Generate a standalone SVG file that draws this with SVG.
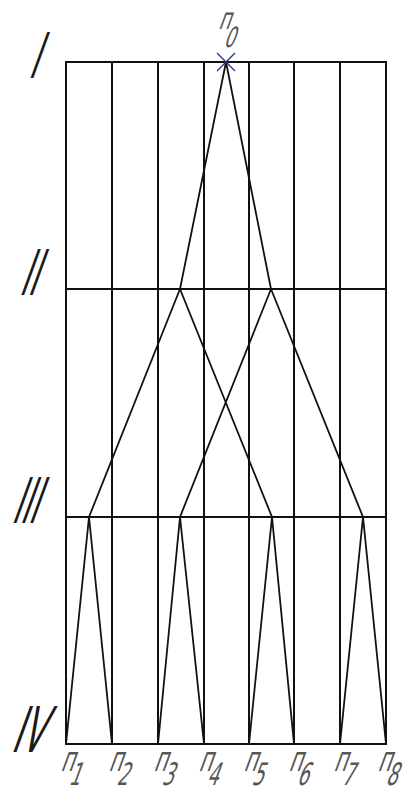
<svg xmlns="http://www.w3.org/2000/svg" width="406" height="794" viewBox="0 0 406 794">
<style>
.g{stroke:#111;stroke-width:2;fill:none}
.c{stroke:#111;stroke-width:1.8;fill:none;stroke-linecap:round}
.num{font-family:"DejaVu Sans",sans-serif;font-size:63px;fill:#1a1a1a}
.lab{font-family:"DejaVu Sans",sans-serif;font-size:35px;fill:#555}
.sub{font-size:31px}
.top{font-size:30px}
.tsub{font-size:28px}
</style>
<rect width="406" height="794" fill="#fff"/>
<g id="grid" class="g">
<rect x="66" y="62" width="320" height="682"/>
<path d="M112 62V744M158 62V744M204 62V744M249 62V744M294 62V744M340 62V744M66 289H386M66 517H386"/>
</g>
<g id="connectors" class="c">
<path d="M226 62L180 289M226 62L271 289"/>
<path d="M180 289L89 517M180 289L272 517M271 289L180 517M271 289L363 517"/>
<path d="M89 517L66 744M89 517L112 744M180 517L158 744M180 517L204 744M272 517L249 744M272 517L294 744M363 517L340 744M363 517L386 744"/>
</g>
<g id="n0">
<path d="M217 53L235 71M235 53L217 71" stroke="#2a3580" stroke-width="1.4"/>
<g transform="translate(218,29) skewX(-20) scale(0.6,1)"><text class="lab top">п<tspan class="tsub" dy="18">0</tspan></text></g>
</g>
<g id="levels">
<g transform="translate(32,78) skewX(-20) scale(0.45,1)"><text class="num" x="-9.3">I</text></g>
<g transform="translate(22.7,295) skewX(-20) scale(0.45,1)"><text class="num" x="-9.3">II</text></g>
<g transform="translate(15,523) skewX(-20) scale(0.45,1)"><text class="num" x="-9.3">III</text></g>
<g transform="translate(15,752) skewX(-20) scale(0.5,1)"><text class="num" x="-9.3">IV</text></g>
</g>
<g id="leaves">
<g transform="translate(60,771) skewX(-20) scale(0.58,1)"><text class="lab">п<tspan class="sub" dy="14">1</tspan></text></g>
<g transform="translate(108,771) skewX(-20) scale(0.58,1)"><text class="lab">п<tspan class="sub" dy="14">2</tspan></text></g>
<g transform="translate(153,771) skewX(-20) scale(0.58,1)"><text class="lab">п<tspan class="sub" dy="14">3</tspan></text></g>
<g transform="translate(198,771) skewX(-20) scale(0.58,1)"><text class="lab">п<tspan class="sub" dy="14">4</tspan></text></g>
<g transform="translate(243,771) skewX(-20) scale(0.58,1)"><text class="lab">п<tspan class="sub" dy="14">5</tspan></text></g>
<g transform="translate(288,771) skewX(-20) scale(0.58,1)"><text class="lab">п<tspan class="sub" dy="14">6</tspan></text></g>
<g transform="translate(333,771) skewX(-20) scale(0.58,1)"><text class="lab">п<tspan class="sub" dy="14">7</tspan></text></g>
<g transform="translate(377,771) skewX(-20) scale(0.58,1)"><text class="lab">п<tspan class="sub" dy="14">8</tspan></text></g>
</g>
</svg>
